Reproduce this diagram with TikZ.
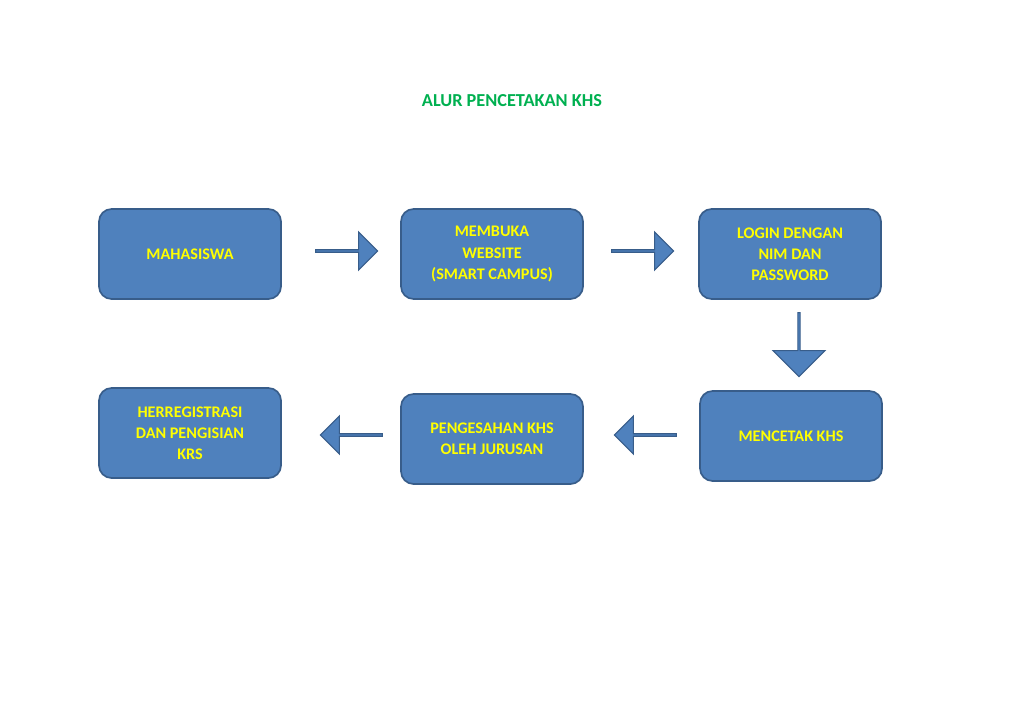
\documentclass[tikz,border=0pt]{standalone}
\usepackage{fontspec}
\setmainfont{Carlito}
\usetikzlibrary{shapes.arrows}
\definecolor{boxfill}{HTML}{4F81BD}
\definecolor{boxline}{HTML}{385D8A}
\definecolor{txtyellow}{HTML}{FFFF00}
\definecolor{titlegreen}{HTML}{00B050}
\tikzset{
  stepbox/.style={draw=boxline, line width=1.2pt, fill=boxfill, rounded corners=9pt,
    minimum width=4.55cm, minimum height=2.25cm, align=center, text=txtyellow,
    font=\fontsize{11.5}{15}\selectfont\bfseries},
  blockarrow/.style={single arrow, draw=boxline, line width=0.8pt, fill=boxfill,
    minimum height=1.55cm, minimum width=0.95cm, single arrow head extend=0.2cm,
    single arrow head indent=0pt, inner sep=0pt}
}
\begin{document}
\begin{tikzpicture}[x=0.025cm, y=-0.025cm]
\useasboundingbox (0,0) rectangle (1024,724);
\node[text=titlegreen, font=\fontsize{13}{16}\selectfont\bfseries] (title) at (512,101) {ALUR PENCETAKAN KHS};

\node[stepbox] (mhs)    at (190,254) {MAHASISWA};
\node[stepbox] (web)    at (492,254) {MEMBUKA\\WEBSITE\\(SMART CAMPUS)};
\node[stepbox] (login)  at (790,254) {LOGIN DENGAN\\NIM DAN\\PASSWORD};
\node[stepbox] (cetak)  at (791,436) {MENCETAK KHS};
\node[stepbox] (sah)    at (492,439) {PENGESAHAN KHS\\OLEH JURUSAN};
\node[stepbox] (her)    at (190,433) {HERREGISTRASI\\DAN PENGISIAN\\KRS};

\node[blockarrow] (a1) at (346,251) {};
\node[blockarrow] (a2) at (642,251) {};
\node[blockarrow, shape border rotate=270, minimum height=1.6cm, minimum width=1.3cm, single arrow head extend=0.3cm] (a3) at (799,344) {};
\node[blockarrow, shape border rotate=180] (a4) at (352,435) {};
\node[blockarrow, shape border rotate=180] (a5) at (646,435) {};
\end{tikzpicture}
\end{document}
